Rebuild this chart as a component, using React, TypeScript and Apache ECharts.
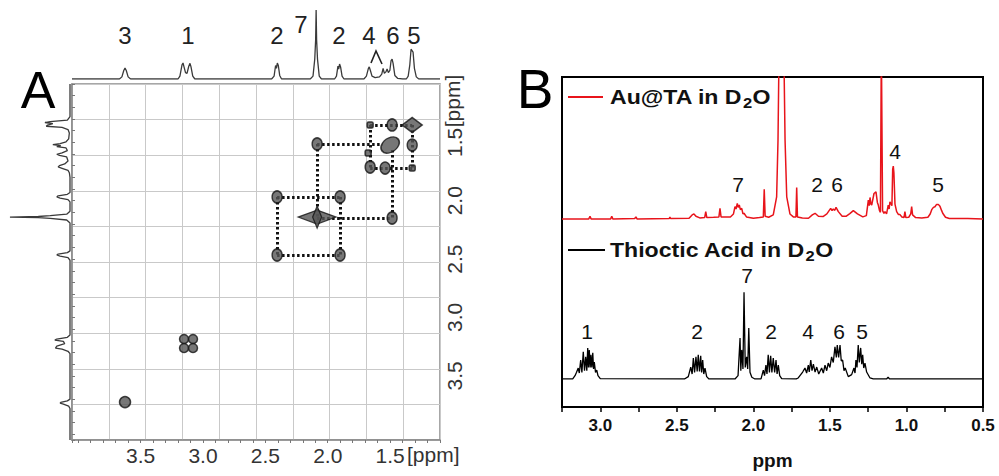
import React, { useEffect, useRef } from 'react';
import * as echarts from 'echarts';

const FONT = "'Liberation Sans', Arial, Helvetica, sans-serif";

// ---------- Panel A: COSY (ppm values) ----------
// top 1D projection: [ppm, intensity]
const cosyTopTrace: number[][] = [
  [4.05, 0], [3.67, 0], [3.65, 3], [3.635, 12], [3.625, 15.5], [3.615, 12], [3.6, 3], [3.58, 0],
  [3.2, 0], [3.185, 4], [3.168, 20], [3.16, 22.5], [3.152, 17], [3.14, 9], [3.128, 8], [3.114, 18],
  [3.104, 22], [3.096, 17], [3.082, 4], [3.065, 0],
  [2.45, 0], [2.43, 4], [2.418, 19], [2.411, 15], [2.404, 22.5], [2.396, 19], [2.385, 5], [2.37, 0],
  [2.14, 0], [2.118, 4], [2.104, 28], [2.097, 55], [2.093, 97], [2.089, 55], [2.082, 28], [2.068, 4], [2.05, 0],
  [1.945, 0], [1.93, 4], [1.918, 18], [1.912, 14], [1.905, 21], [1.897, 17], [1.885, 4], [1.87, 0],
  [1.71, 0], [1.69, 4], [1.674, 15], [1.667, 17], [1.658, 12], [1.645, 4], [1.62, 2], [1.585, 3],
  [1.567, 7], [1.556, 15], [1.546, 8], [1.534, 10], [1.524, 14], [1.514, 9], [1.502, 12], [1.492, 26],
  [1.484, 28], [1.476, 22], [1.462, 5], [1.44, 1], [1.4, 0], [1.37, 0], [1.355, 4], [1.342, 20],
  [1.332, 42], [1.324, 40], [1.316, 38], [1.305, 15], [1.29, 3], [1.27, 0], [1.1, 0],
];
// left 1D projection: [ppm, intensity]
const cosyLeftTrace: number[][] = [
  [1.0, 0], [1.28, 0], [1.31, 4], [1.322, 30], [1.33, 38], [1.34, 26], [1.352, 34], [1.362, 36],
  [1.372, 12], [1.39, 3], [1.42, 1], [1.47, 2], [1.495, 6], [1.51, 15], [1.52, 26], [1.528, 14],
  [1.537, 20], [1.548, 6], [1.57, 4], [1.59, 12], [1.602, 20], [1.612, 16], [1.625, 5], [1.66, 3],
  [1.685, 8], [1.7, 16], [1.711, 18], [1.722, 12], [1.74, 3], [1.76, 1], [1.8, 0],
  [1.93, 0], [1.945, 4], [1.958, 18], [1.968, 20], [1.978, 15], [1.99, 3], [2.01, 0],
  [2.09, 0], [2.115, 5], [2.128, 30], [2.135, 48], [2.14, 91], [2.145, 48], [2.152, 30], [2.165, 5], [2.19, 0],
  [2.43, 0], [2.445, 4], [2.457, 18], [2.465, 20], [2.475, 15], [2.488, 3], [2.51, 0],
  [3.15, 0], [3.17, 4], [3.185, 20], [3.194, 23], [3.205, 10], [3.225, 8], [3.245, 20], [3.262, 22],
  [3.272, 12], [3.29, 3], [3.31, 0],
  [3.7, 0], [3.715, 4], [3.728, 14], [3.734, 15], [3.742, 10], [3.76, 2], [3.78, 0], [4.05, 0],
];
// contour peaks [F2 ppm, F1 ppm]
const roundPeaks: number[][] = [
  [2.406, 2.465], [1.901, 2.465], [2.406, 1.968], [1.901, 1.968],
  [1.484, 2.148], [2.085, 1.514], [1.323, 1.523], [1.484, 1.351],
  [1.66, 1.711], [1.54, 1.72],
];
const weakPeaks: number[][] = [[1.66, 1.351], [1.676, 1.591], [1.323, 1.72]];
const methinePeaks: number[][] = [[3.152, 3.185], [3.08, 3.185], [3.152, 3.262], [3.08, 3.262]];
const peak3: number[][] = [[3.625, 3.725]];
const peak7: number[][] = [[2.085, 2.14]];
const peak5: number[][] = [[1.323, 1.351]];
const peak6: number[][] = [[1.5, 1.523]];
// dotted correlation paths
const correlationPaths: number[][][] = [
  [[1.66, 1.351], [1.323, 1.351]],
  [[2.085, 1.514], [1.56, 1.514]],
  [[1.66, 1.72], [1.323, 1.72]],
  [[1.66, 1.351], [1.66, 1.72]],
  [[1.323, 1.351], [1.323, 1.72]],
  [[1.484, 1.566], [1.484, 2.148]],
  [[2.406, 1.968], [1.901, 1.968]],
  [[2.085, 2.148], [1.484, 2.148]],
  [[2.085, 1.514], [2.085, 2.14]],
  [[2.406, 1.968], [2.406, 2.465]],
  [[1.901, 1.968], [1.901, 2.465]],
  [[2.406, 2.465], [1.901, 2.465]],
];
const cosyTickLabels = [1.5, 2.0, 2.5, 3.0, 3.5];

// ---------- Panel B: 1D spectra [ppm, intensity] ----------
const thiocticTrace: number[][] = [
  [3.25, 8.5], [3.18, 8.5], [3.165, 9.5], [3.155, 10.5],
  [3.144, 11.8], [3.137, 10.3], [3.128, 14.2], [3.12, 10.5], [3.111, 16.7], [3.103, 11], [3.095, 15.2],
  [3.088, 11], [3.082, 17.9], [3.077, 12], [3.072, 17.3], [3.066, 12], [3.061, 15.8], [3.055, 12],
  [3.049, 16.4], [3.044, 11.5], [3.039, 13.6], [3.031, 10.5], [3.023, 11.2], [3.015, 9.5], [3.0, 8.6],
  [2.45, 8.5], [2.425, 9.2], [2.409, 12.1], [2.4, 10], [2.392, 14.8], [2.384, 10.5], [2.375, 15.2],
  [2.367, 10.8], [2.36, 15.8], [2.352, 10.8], [2.344, 15.5], [2.338, 10.5], [2.331, 14.2], [2.324, 10],
  [2.316, 11.8], [2.305, 9.2], [2.29, 8.5],
  [2.12, 8.5], [2.1, 9.5], [2.087, 20.9], [2.082, 11], [2.076, 17.3], [2.068, 11.5], [2.061, 34.8],
  [2.053, 12], [2.044, 15.2], [2.037, 11.5], [2.03, 23.9], [2.022, 10.5], [2.01, 9], [1.99, 8.5],
  [1.95, 8.5], [1.935, 11.2], [1.927, 9.5], [1.918, 12.7], [1.911, 10], [1.903, 15.8], [1.895, 10.5],
  [1.887, 15.5], [1.879, 10.5], [1.87, 14.8], [1.861, 10.5], [1.852, 14.2], [1.845, 10], [1.837, 12.7],
  [1.828, 9.5], [1.815, 8.6],
  [1.72, 8.5], [1.707, 8.8], [1.678, 10.6], [1.663, 11.8], [1.652, 10.3], [1.641, 12.7], [1.635, 10.6],
  [1.625, 14.2], [1.617, 11], [1.608, 13], [1.597, 10.6], [1.586, 12.1], [1.573, 10], [1.554, 11.8],
  [1.543, 10.3], [1.532, 12.7], [1.521, 11], [1.511, 13.3], [1.5, 12], [1.489, 15.2], [1.478, 13.5],
  [1.467, 18.2], [1.458, 15], [1.452, 18.8], [1.443, 15], [1.434, 18.8], [1.426, 14], [1.417, 14.2],
  [1.408, 11], [1.4, 11.8], [1.38, 9.2], [1.358, 9.8],
  [1.343, 11.8], [1.336, 10.3], [1.33, 14.2], [1.323, 12], [1.315, 18.8], [1.308, 13.5], [1.299, 17.9],
  [1.292, 13], [1.286, 15.8], [1.279, 11.8], [1.271, 13.3], [1.26, 10.6], [1.238, 8.8], [1.217, 8.5],
  [1.13, 8.5], [1.12, 9.0], [1.11, 8.5], [0.5, 8.5],
];
const auTaTrace: number[][] = [
  [3.25, 57], [3.075, 57], [3.067, 57.8], [3.06, 57], [2.932, 57], [2.925, 57.8], [2.918, 57],
  [2.775, 57.1], [2.767, 57.6], [2.76, 57], [2.55, 57.1], [2.545, 57.5], [2.54, 57.1], [2.42, 57.2],
  [2.4, 58.2], [2.388, 58.5], [2.375, 57.8], [2.35, 57.3], [2.318, 57.4], [2.311, 59.2], [2.304, 57.4],
  [2.26, 57.5], [2.225, 57.6], [2.218, 60.2], [2.211, 57.6], [2.15, 57.6], [2.13, 58.5], [2.12, 60.7],
  [2.113, 60], [2.105, 61.7], [2.099, 60.5], [2.092, 61.2], [2.085, 59.8], [2.076, 60.2], [2.068, 58.5],
  [2.061, 58.7], [2.045, 57.6], [2.0, 57.2], [1.96, 57.4], [1.935, 57.6], [1.929, 66], [1.923, 57.8],
  [1.9, 57.5], [1.87, 58.2], [1.848, 63.7], [1.839, 80.9], [1.833, 105], [1.815, 115], [1.8, 105],
  [1.793, 80.9], [1.782, 63.7], [1.761, 58.5], [1.739, 57.6], [1.722, 57.6], [1.717, 66.5], [1.712, 57.6],
  [1.68, 57.3], [1.64, 57.2], [1.615, 58.2], [1.597, 58.7], [1.575, 57.8], [1.545, 57.7], [1.52, 58.5],
  [1.495, 60.2], [1.486, 59.5], [1.478, 60], [1.468, 59.6], [1.46, 60.5], [1.445, 59.2], [1.42, 57.8],
  [1.395, 57.8], [1.37, 58.6], [1.347, 59.5], [1.32, 58.5], [1.285, 57.6], [1.262, 58], [1.249, 62.7],
  [1.243, 61], [1.238, 63.5], [1.232, 61.5], [1.227, 61.2], [1.212, 64.7], [1.199, 65.2], [1.19, 62],
  [1.184, 61.2], [1.176, 59.5], [1.17, 59], [1.164, 110], [1.16, 110], [1.156, 59.5], [1.147, 58.7],
  [1.14, 59.2], [1.13, 58.5], [1.119, 61.2], [1.113, 60], [1.108, 62.2], [1.095, 61], [1.09, 72],
  [1.086, 73], [1.082, 71], [1.075, 61.5], [1.064, 59.2], [1.052, 58.3], [1.042, 58.3], [1.03, 57.6],
  [1.016, 57.4], [1.01, 59.2], [1.004, 57.4], [0.985, 57.5], [0.972, 58.5], [0.966, 60.7], [0.96, 58.2],
  [0.94, 57.4], [0.9, 57.3], [0.86, 57.5], [0.845, 58.5], [0.835, 59.8], [0.824, 60.5], [0.814, 60.7],
  [0.803, 61.4], [0.792, 61.4], [0.781, 60.8], [0.77, 59.5], [0.763, 58.7], [0.745, 57.5], [0.72, 57.1],
  [0.6, 57.1], [0.5, 57],
];

const txt = (text: string, x: number, y: number, size: number, extra: any = {}) => ({
  type: 'text',
  x,
  y,
  scaleX: extra.scaleX ?? 1,
  rotation: extra.rotation ?? 0,
  silent: true,
  style: {
    text,
    fontSize: size,
    fontFamily: FONT,
    fontWeight: extra.bold ? 'bold' : 'normal',
    fill: extra.fill ?? '#111',
    textAlign: extra.align ?? 'center',
    textVerticalAlign: 'middle',
  },
});

const measure = (s: string, size: number): number => {
  const c = document.createElement('canvas').getContext('2d');
  if (!c) return s.length * size * 0.6;
  c.font = `bold ${size}px ${FONT}`;
  return c.measureText(s).width;
};

// legend text with subscript "2": returns graphic elements
const legendLabel = (head: string, x: number, y: number) => {
  const sx = 1.1;
  const w1 = measure(head, 21) * sx;
  const w2 = measure('2', 15) * sx;
  return [
    txt(head, x, y, 21, { bold: true, align: 'left', scaleX: sx, fill: '#111' }),
    txt('2', x + w1 + 0.5, y + 6, 15, { bold: true, align: 'left', scaleX: sx, fill: '#111' }),
    txt('O', x + w1 + w2 + 1, y, 21, { bold: true, align: 'left', scaleX: sx, fill: '#111' }),
  ];
};

export default function App() {
  const ref = useRef<HTMLDivElement>(null);
  useEffect(() => {
    if (!ref.current) return;
    const chart = echarts.init(ref.current, null, { renderer: 'svg' });
    const peakStyle = { color: '#555', borderColor: '#151515', borderWidth: 1.5 };
    const hidden = { show: false };
    const cosyFmt = (v: number) => {
      const r = Math.round(v * 10) / 10;
      return cosyTickLabels.some((t) => Math.abs(t - r) < 1e-6) ? r.toFixed(1) : '';
    };
    const option: any = {
      animation: false,
      backgroundColor: '#fff',
      textStyle: { fontFamily: FONT },
      grid: [
        { left: 72, top: 84, width: 368, height: 356, show: true, borderColor: '#8a8a8a', borderWidth: 1.5 },
        { left: 72, top: 8, width: 368, height: 71 },
        { left: 4, top: 84, width: 66, height: 356 },
        { left: 562, top: 77, width: 421, height: 330, show: true, borderColor: '#000', borderWidth: 2 },
      ],
      xAxis: [
        {
          type: 'value', gridIndex: 0, inverse: true, min: 1.1, max: 4.05, interval: 0.1,
          axisLine: { show: true, lineStyle: { color: '#8a8a8a', width: 1.5 } },
          axisTick: { show: true, length: 3, lineStyle: { color: '#777' } },
          splitLine: { show: false },
          axisLabel: { formatter: cosyFmt, fontSize: 21, color: '#333', margin: 5, fontFamily: FONT },
        },
        {
          type: 'value', gridIndex: 0, min: 0, max: 10, interval: 1,
          axisLine: hidden, axisTick: hidden, axisLabel: hidden,
          splitLine: { show: true, lineStyle: { color: '#c9c9c9', width: 1 } },
        },
        { type: 'value', gridIndex: 1, inverse: true, min: 1.1, max: 4.05, show: false },
        { type: 'value', gridIndex: 2, inverse: true, min: 0, max: 100, show: false },
        {
          type: 'value', gridIndex: 3, inverse: true, min: 0.5, max: 3.25, interval: 0.25,
          axisLine: { show: true, lineStyle: { color: '#000', width: 2 } },
          axisTick: { show: true, length: 5, lineStyle: { color: '#000', width: 1.5 } },
          splitLine: { show: false },
          axisLabel: {
            fontSize: 17, fontWeight: 'bold', color: '#111', margin: 10, fontFamily: FONT,
            formatter: (v: number) => {
              const r = Math.round(v * 100) / 100;
              return Math.abs(r * 2 - Math.round(r * 2)) < 1e-6 ? r.toFixed(1) : '';
            },
          },
          name: 'ppm', nameLocation: 'middle', nameGap: 44,
          nameTextStyle: { fontSize: 19, fontWeight: 'bold', color: '#111', fontFamily: FONT },
        },
      ],
      yAxis: [
        {
          type: 'value', gridIndex: 0, position: 'right', inverse: true, min: 1.0, max: 4.05, interval: 0.1,
          axisLine: { show: true, lineStyle: { color: '#8a8a8a', width: 1.5 } },
          axisTick: { show: true, length: 3, lineStyle: { color: '#777' } },
          splitLine: { show: false },
          axisLabel: { formatter: cosyFmt, rotate: 90, fontSize: 21, color: '#333', margin: 4, fontFamily: FONT },
        },
        {
          type: 'value', gridIndex: 0, min: 0, max: 10, interval: 1,
          axisLine: hidden, axisTick: hidden, axisLabel: hidden,
          splitLine: { show: true, lineStyle: { color: '#c9c9c9', width: 1 } },
        },
        { type: 'value', gridIndex: 1, min: 0, max: 100, show: false },
        { type: 'value', gridIndex: 2, inverse: true, min: 1.0, max: 4.05, show: false },
        { type: 'value', gridIndex: 3, min: 0, max: 100, show: false },
      ],
      series: [
        {
          type: 'line', xAxisIndex: 2, yAxisIndex: 2, data: cosyTopTrace, showSymbol: false, symbol: 'none',
          lineStyle: { color: '#3a3a3a', width: 1.3 }, silent: true,
        },
        {
          type: 'line', xAxisIndex: 3, yAxisIndex: 3, data: cosyLeftTrace.map(([p, v]) => [v, p]),
          showSymbol: false, symbol: 'none', lineStyle: { color: '#3a3a3a', width: 1.3 }, silent: true,
        },
        {
          type: 'lines', coordinateSystem: 'cartesian2d', xAxisIndex: 0, yAxisIndex: 0, silent: true, z: 3,
          data: correlationPaths.map((c) => ({ coords: c })),
          lineStyle: { color: '#111', width: 3, type: [2.5, 2.5], opacity: 1 },
        },
        { type: 'scatter', xAxisIndex: 0, yAxisIndex: 0, data: roundPeaks, symbol: 'circle', symbolSize: [10, 12], itemStyle: peakStyle, silent: true, z: 4 },
        { type: 'scatter', xAxisIndex: 0, yAxisIndex: 0, data: weakPeaks, symbol: 'roundRect', symbolSize: 6, itemStyle: peakStyle, silent: true, z: 4 },
        { type: 'scatter', xAxisIndex: 0, yAxisIndex: 0, data: methinePeaks, symbol: 'circle', symbolSize: 9, itemStyle: peakStyle, silent: true, z: 4 },
        { type: 'scatter', xAxisIndex: 0, yAxisIndex: 0, data: peak3, symbol: 'circle', symbolSize: 11, itemStyle: peakStyle, silent: true, z: 4 },
        { type: 'scatter', xAxisIndex: 0, yAxisIndex: 0, data: peak7, symbol: 'diamond', symbolSize: [38, 14], itemStyle: peakStyle, silent: true, z: 4 },
        { type: 'scatter', xAxisIndex: 0, yAxisIndex: 0, data: peak7, symbol: 'diamond', symbolSize: [9, 22], itemStyle: peakStyle, silent: true, z: 5 },
        { type: 'scatter', xAxisIndex: 0, yAxisIndex: 0, data: peak5, symbol: 'diamond', symbolSize: [20, 15], itemStyle: peakStyle, silent: true, z: 4 },
        { type: 'scatter', xAxisIndex: 0, yAxisIndex: 0, data: peak6, symbol: 'circle', symbolSize: [20, 14], symbolRotate: 35, itemStyle: peakStyle, silent: true, z: 4 },
        {
          type: 'line', xAxisIndex: 4, yAxisIndex: 4, data: thiocticTrace, showSymbol: false, symbol: 'none',
          lineStyle: { color: '#000', width: 1.3 }, silent: true, clip: true,
        },
        {
          type: 'line', xAxisIndex: 4, yAxisIndex: 4, data: auTaTrace, showSymbol: false, symbol: 'none',
          lineStyle: { color: '#e8141b', width: 1.5 }, silent: true, clip: true,
        },
      ],
      graphic: {
        elements: [
          txt('A', 38, 90, 52, { fill: '#000' }),
          txt('B', 535, 89, 55, { fill: '#000' }),
          txt('3', 125, 35, 24, { fill: '#222' }),
          txt('1', 188, 35, 24, { fill: '#222' }),
          txt('2', 277, 35, 24, { fill: '#222' }),
          txt('7', 301, 24, 24, { fill: '#222' }),
          txt('2', 339, 35, 24, { fill: '#222' }),
          txt('4', 369, 35, 24, { fill: '#222' }),
          txt('6', 393, 35, 24, { fill: '#222' }),
          txt('5', 414, 35, 24, { fill: '#222' }),
          {
            type: 'polyline', silent: true,
            shape: { points: [[371, 63], [376, 51], [382, 64]] },
            style: { stroke: '#222', lineWidth: 1.6, fill: null },
          },
          txt('[ppm]', 407, 454, 21, { fill: '#333', align: 'left' }),
          txt('[ppm]', 452, 101, 21, { fill: '#333', rotation: Math.PI / 2 }),
          {
            type: 'line', silent: true, shape: { x1: 568, y1: 97, x2: 603, y2: 97 },
            style: { stroke: '#e8141b', lineWidth: 2 },
          },
          ...legendLabel('Au@TA in D', 610, 97),
          {
            type: 'line', silent: true, shape: { x1: 568, y1: 250, x2: 605, y2: 250 },
            style: { stroke: '#000', lineWidth: 2 },
          },
          ...legendLabel('Thioctic Acid in D', 610, 250),
          txt('7', 738, 184, 21),
          txt('2', 817, 184, 21),
          txt('6', 837, 184, 21),
          txt('4', 895, 151, 21),
          txt('5', 938, 184, 21),
          txt('1', 587, 331, 21),
          txt('2', 697, 331, 21),
          txt('7', 747, 275, 21),
          txt('2', 771, 331, 21),
          txt('4', 808, 331, 21),
          txt('6', 839, 331, 21),
          txt('5', 862, 331, 21),
        ],
      },
    };
    chart.setOption(option);
    return () => chart.dispose();
  }, []);
  return (
    <div
      ref={ref}
      style={{ position: 'fixed', left: 0, top: 0, width: 999, height: 476, background: '#fff' }}
    />
  );
}
